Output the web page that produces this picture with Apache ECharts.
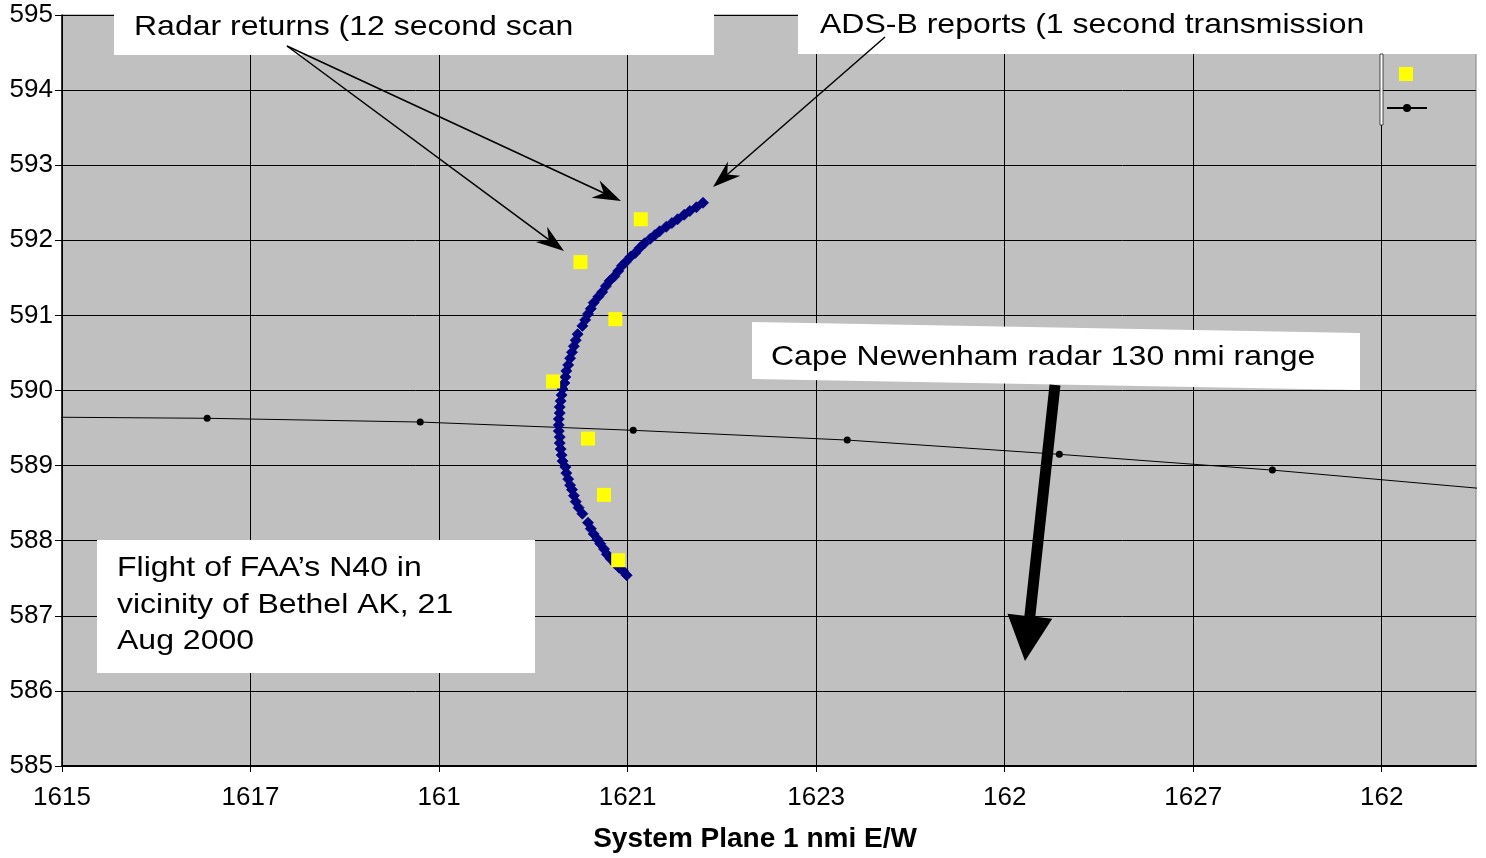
<!DOCTYPE html>
<html>
<head>
<meta charset="utf-8">
<script src="https://cdn.jsdelivr.net/npm/echarts@6/dist/echarts.min.js"></script>
<style>
html,body{margin:0;padding:0;background:#fff;}
#chart{width:1486px;height:858px;}
</style>
</head>
<body>
<div id="chart"></div>
<script>
// ---- Data ----
const xTickValues = [1615, 1617, 1619, 1621, 1623, 1625, 1627, 1629];
const xTickLabels = ['1615', '1617', '161', '1621', '1623', '162', '1627', '162'];
const yMin = 585, yMax = 595;

// Radar returns (12 second scan)
const radarX = [1621.14, 1620.50, 1620.87, 1620.21, 1620.58, 1620.75, 1620.90];
const radarY = [592.28, 591.71, 590.95, 590.12, 589.36, 588.61, 587.74];

// ADS-B reports (1 second transmission)
const adsbX = [1620.99,1620.95,1620.91,1620.87,1620.82,1620.78,1620.75,1620.71,1620.68,1620.64,1620.61,1620.58,
  1620.52,1620.48,1620.45,1620.43,1620.41,1620.39,1620.37,1620.35,1620.34,1620.31,1620.30,1620.29,1620.28,1620.28,1620.27,1620.27,1620.27,1620.28,1620.28,1620.29,1620.30,1620.31,1620.33,1620.34,1620.35,1620.37,1620.39,1620.41,1620.43,1620.45,1620.47,
  1620.52,1620.55,1620.58,1620.61,1620.64,1620.69,1620.73,1620.77,1620.81,1620.86,1620.90,1620.94,1620.98,1621.03,1621.08,1621.13,1621.18,1621.24,1621.29,1621.34,1621.41,1621.47,1621.53,1621.60,1621.66,1621.73,1621.80];
const adsbY = [587.54,587.60,587.64,587.69,587.76,587.82,587.89,587.96,588.02,588.09,588.16,588.24,
  588.36,588.44,588.52,588.60,588.68,588.74,588.82,588.90,588.98,589.06,589.14,589.22,589.30,589.38,589.46,589.54,589.62,589.70,589.78,589.86,589.94,590.02,590.10,590.18,590.26,590.34,590.43,590.51,590.59,590.67,590.75,
  590.86,590.94,591.02,591.09,591.17,591.25,591.31,591.39,591.46,591.52,591.59,591.66,591.71,591.78,591.83,591.90,591.96,592.02,592.07,592.12,592.18,592.23,592.28,592.34,592.39,592.44,592.50];

// Cape Newenham radar 130 nmi range
const rangeX = [1614.28, 1616.54, 1618.80, 1621.06, 1623.33, 1625.58, 1627.84, 1630.10];
const rangeY = [589.65, 589.63, 589.58, 589.47, 589.34, 589.15, 588.94, 588.69];

const zip = (a, b) => a.map((v, i) => [v, b[i]]);

// ---- Annotation helpers ----
const FONT = '"Liberation Sans", Arial, Helvetica, sans-serif';
const SX = 1.143;
function label(text, x, y, extra) {
  return Object.assign({
    type: 'text', x: x, y: y, scaleX: SX, z: 100,
    style: { text: text, x: 0, y: 0, fontSize: 28, fontFamily: FONT, fill: '#000', verticalAlign: 'middle', align: 'left' }
  }, extra || {});
}
function arrow(x0, y0, x1, y1, len, half, notch, lw) {
  const dx = x1 - x0, dy = y1 - y0, d = Math.hypot(dx, dy);
  const ux = dx / d, uy = dy / d, nx = -uy, ny = ux;
  const bx = x1 - ux * len, by = y1 - uy * len;
  const mx = x1 - ux * (len - notch), my = y1 - uy * (len - notch);
  return [
    { type: 'line', z: 101, shape: { x1: x0, y1: y0, x2: mx, y2: my }, style: { stroke: '#000', lineWidth: lw } },
    { type: 'polygon', z: 101, shape: { points: [[x1, y1], [bx + nx * half, by + ny * half], [mx, my], [bx - nx * half, by - ny * half]] }, style: { fill: '#000' } }
  ];
}
function thickArrow(x0, y0, x1, y1, len, half, shaft) {
  const dx = x1 - x0, dy = y1 - y0, d = Math.hypot(dx, dy);
  const ux = dx / d, uy = dy / d, nx = -uy, ny = ux;
  const bx = x1 - ux * len, by = y1 - uy * len;
  return {
    type: 'polygon', z: 101,
    shape: { points: [
      [x0 + nx * shaft, y0 + ny * shaft], [bx + nx * shaft, by + ny * shaft], [bx + nx * half, by + ny * half],
      [x1, y1],
      [bx - nx * half, by - ny * half], [bx - nx * shaft, by - ny * shaft], [x0 - nx * shaft, y0 - ny * shaft]
    ] },
    style: { fill: '#000' }
  };
}

const graphics = [
  { type: 'rect', z: 99, shape: { x: 114, y: 0, width: 600, height: 55 }, style: { fill: '#fff' } },
  label('Radar returns (12 second scan', 134, 27),
  { type: 'rect', z: 99, shape: { x: 798, y: 0, width: 690, height: 54 }, style: { fill: '#fff' } },
  label('ADS-B reports (1 second transmission', 820, 25),
  { type: 'polygon', z: 99, shape: { points: [[752, 322], [1360, 333], [1360, 390], [752, 379]] }, style: { fill: '#fff' } },
  label('Cape Newenham radar 130 nmi range', 771, 357),
  { type: 'rect', z: 99, shape: { x: 97, y: 540, width: 438, height: 133 }, style: { fill: '#fff' } },
  label('Flight of FAA\u2019s N40 in', 117, 568),
  label('vicinity of Bethel AK, 21', 117, 605),
  label('Aug 2000', 117, 641),
  { type: 'rect', z: 99, shape: { x: 1380, y: 54, width: 3, height: 71 }, style: { fill: '#fff', stroke: '#222', lineWidth: 0.8 } }
]
  .concat(arrow(287, 46, 621, 201, 28, 9.5, 9, 1.5))
  .concat(arrow(287, 46, 564, 251, 28, 9.5, 9, 1.5))
  .concat(arrow(885, 37, 713, 187, 28, 9.5, 9, 1.5))
  .concat([thickArrow(1055, 385, 1025, 661, 45, 22.5, 5.5)]);

const chart = echarts.init(document.getElementById('chart'), null, { renderer: 'canvas' });
chart.setOption({
  animation: false,
  backgroundColor: '#fff',
  grid: {
    left: 62, right: 10, top: 15, bottom: 92,
    show: true, backgroundColor: '#c0c0c0', borderColor: '#808080', borderWidth: 1,
    containLabel: false, outerBoundsMode: 'none'
  },
  xAxis: {
    type: 'value', min: 1615, max: 1630, interval: 1,
    name: 'System Plane 1 nmi E/W', nameLocation: 'middle', nameGap: 59,
    nameTextStyle: { fontSize: 28, fontWeight: 'bold', fontFamily: FONT, color: '#000', padding: [0, 28, 0, 0] },
    axisLine: { show: true, onZero: false, lineStyle: { color: '#000', width: 2 } },
    axisTick: { show: true, inside: false, length: 6, customValues: xTickValues, lineStyle: { color: '#000', width: 1 } },
    axisLabel: {
      show: true, customValues: xTickValues, margin: 19, fontSize: 26, fontFamily: '"Liberation Sans Narrow", ' + FONT, color: '#000',
      formatter: function (v) { const i = xTickValues.indexOf(Math.round(v)); return i >= 0 ? xTickLabels[i] : ''; }
    },
    splitLine: { show: true, lineStyle: { color: '#000', width: 1 } }
  },
  yAxis: {
    type: 'value', min: yMin, max: yMax, interval: 1,
    axisLine: { show: true, onZero: false, lineStyle: { color: '#000', width: 1.5 } },
    axisTick: { show: true, inside: false, length: 7, lineStyle: { color: '#000', width: 1 } },
    axisLabel: { show: true, margin: 9, fontSize: 26, fontFamily: FONT, color: '#000' },
    splitLine: { show: true, lineStyle: { color: '#000', width: 1 } }
  },
  legend: [
    { data: ['Radar returns'], left: 1399, top: 67, padding: 0, itemWidth: 14, itemHeight: 14, selectedMode: false,
      formatter: function () { return ''; }, textStyle: { fontSize: 1 } },
    { data: ['Cape Newenham 130 nmi range'], left: 1386, top: 103, padding: 0, itemWidth: 40, itemHeight: 10, selectedMode: false,
      formatter: function () { return ''; }, textStyle: { fontSize: 1 } }
  ],
  series: [
    {
      name: 'Cape Newenham 130 nmi range', type: 'line', data: zip(rangeX, rangeY), clip: true,
      symbol: 'circle', symbolSize: 7, showSymbol: true, showAllSymbol: true,
      lineStyle: { color: '#000', width: 1 }, itemStyle: { color: '#000' }, z: 2
    },
    {
      name: 'ADS-B reports', type: 'scatter', data: zip(adsbX, adsbY), symbol: 'diamond', symbolSize: 11,
      itemStyle: { color: '#000080', borderColor: '#000080', borderWidth: 0.8, opacity: 1 }, z: 3
    },
    {
      name: 'Radar returns', type: 'scatter', data: zip(radarX, radarY), symbol: 'rect', symbolSize: 14,
      itemStyle: { color: '#ffff00', opacity: 1 }, z: 4
    }
  ],
  graphic: graphics
});
</script>
</body>
</html>
